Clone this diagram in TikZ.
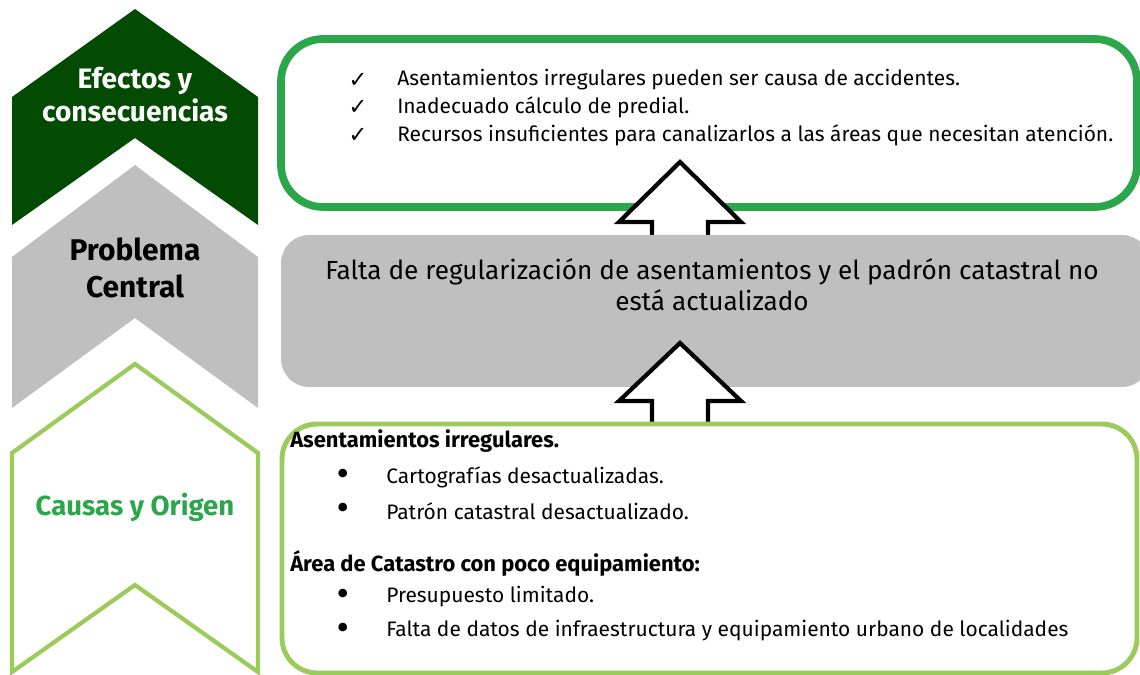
\documentclass[tikz,border=0pt]{standalone}
\usepackage{fontspec}
\setmainfont{Fira Sans}
\newfontfamily\symbolfont{DejaVu Sans}
\begin{document}
\begin{tikzpicture}[x=0.025cm, y=-0.025cm]
    % Define colours
    \definecolor{effectGreen}{HTML}{034B03}
    \definecolor{problemGrey}{HTML}{BFBFBF}
    \definecolor{causeGreen}{HTML}{9BCB5B}
    \definecolor{boxGreen}{HTML}{2CA64B}

    \tikzset{
        sideLabel/.style={align=center, font=\bfseries\fontsize{20}{23.5}\selectfont},
        itemText/.style={anchor=west, inner sep=0pt, font=\fontsize{14.9}{16}\selectfont},
        headText/.style={anchor=west, inner sep=0pt, font=\bfseries\fontsize{15.6}{16}\selectfont},
        markText/.style={inner sep=0pt, font=\symbolfont\fontsize{16}{16}\selectfont},
        dotText/.style={inner sep=0pt, font=\symbolfont\fontsize{21}{16}\selectfont},
        blockArrow/.style={draw=black, fill=white, line width=3pt, line join=miter},
    }

    \useasboundingbox (0,0) rectangle (1140,675);

    % Draw chevrons
    \fill[effectGreen] (12,97) -- (135,9) -- (258,97) -- (258,225) -- (135,138) -- (12,225) -- cycle;
    \fill[problemGrey] (12,257) -- (135,165) -- (258,257) -- (258,408) -- (135,318) -- (12,408) -- cycle;
    \draw[causeGreen, line width=3pt, fill=white] (12,453) -- (135,364) -- (258,453) -- (258,672) -- (135,585) -- (12,672) -- cycle;

    % Label chevrons
    \node[sideLabel, text=white] (effects) at (135,95) {Efectos y\\consecuencias};
    \node[sideLabel, font=\bfseries\fontsize{21.3}{26.5}\selectfont] (problem) at (135,268) {Problema\\Central};
    \node[sideLabel, text=boxGreen, font=\bfseries\fontsize{19.6}{22}\selectfont] (causes) at (135,507) {Causas y Origen};

    % Draw effects box
    \draw[boxGreen, line width=5.5pt, rounded corners=30] (281,39) rectangle (1137,207);
    \node[markText] (check1) at (358,80) {✓};
    \node[markText] (check2) at (358,107) {✓};
    \node[markText] (check3) at (358,135) {✓};
    \node[itemText] (effect1) at (397,80) {Asentamientos irregulares pueden ser causa de accidentes.};
    \node[itemText] (effect2) at (397,107) {Inadecuado cálculo de predial.};
    \node[itemText] (effect3) at (397,135) {Recursos insuficientes para canalizarlos a las áreas que necesitan atención.};

    % Draw upper arrow
    \coordinate (tipUp) at (680,162);
    \draw[blockArrow] (tipUp) -- ++(61,60) -- ++(-33,0) -- ++(0,30) -- ++(-56,0) -- ++(0,-30) -- ++(-33,0) -- cycle;

    % Draw central problem box
    \fill[problemGrey, rounded corners=20] (281,235) rectangle (1150,387);
    \node[align=center, font=\fontsize{18.6}{22}\selectfont] (central) at (712,285)
        {Falta de regularización de asentamientos y el padrón catastral no\\está actualizado};

    % Draw lower arrow
    \coordinate (tipLow) at (680,343);
    \draw[blockArrow] (tipLow) -- ++(61,58) -- ++(-33,0) -- ++(0,32) -- ++(-56,0) -- ++(0,-32) -- ++(-33,0) -- cycle;

    % Draw causes box
    \draw[causeGreen, line width=3.5pt, fill=white, rounded corners=25] (282,424) rectangle (1137,673);
    \node[headText] (head1) at (290,441) {Asentamientos irregulares.};
    \node[dotText] (dot1) at (343,477) {•};
    \node[dotText] (dot2) at (343,511) {•};
    \node[itemText] (cause1) at (386,477) {Cartografías desactualizadas.};
    \node[itemText] (cause2) at (386,511) {Patrón catastral desactualizado.};
    \node[headText] (head2) at (290,563) {Área de Catastro con poco equipamiento:};
    \node[dotText] (dot3) at (343,597) {•};
    \node[dotText] (dot4) at (343,631) {•};
    \node[itemText] (cause3) at (386,597) {Presupuesto limitado.};
    \node[itemText] (cause4) at (386,631) {Falta de datos de infraestructura y equipamiento urbano de localidades};

\end{tikzpicture}
\end{document}
